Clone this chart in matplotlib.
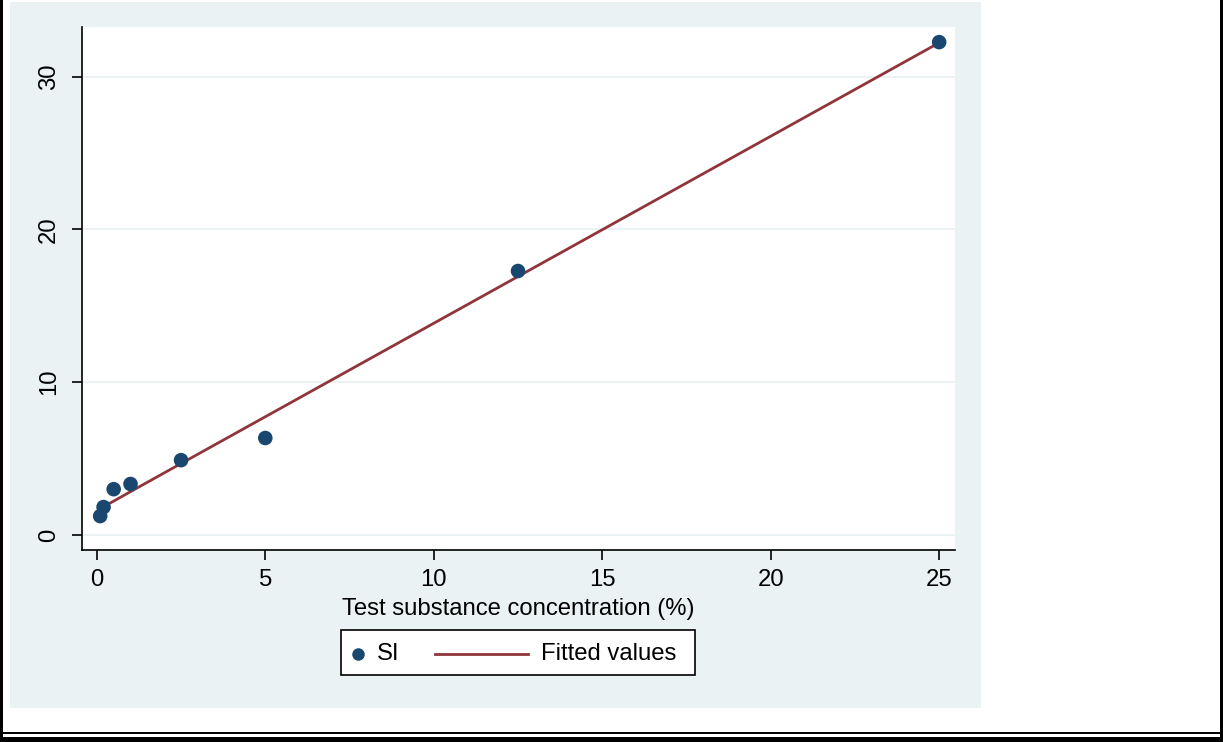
import numpy as np
import matplotlib
matplotlib.use("Agg")
import matplotlib.pyplot as plt
from matplotlib.patches import Rectangle
from matplotlib.lines import Line2D

plt.rcParams['font.family'] = ['Liberation Sans', 'DejaVu Sans']

# data
conc = [0.1, 0.2, 0.5, 1, 2.5, 5, 12.5, 25]
si = [1.24, 1.83, 3.0, 3.34, 4.9, 6.35, 17.28, 32.26]
fitted = [1.74, 1.86, 2.22, 2.84, 4.68, 7.74, 16.92, 32.22]
xticks = [0, 5, 10, 15, 20, 25]
yticks = [0, 10, 20, 30]
labels = ['SI', 'Fitted values']

W, H = 1223, 742
navy = '#1a476f'
maroon = '#90353b'
bg = '#eaf2f3'
fs = 17.2

fig = plt.figure(figsize=(W / 100, H / 100), dpi=100)

def fx(x):
    return x / W

def fy(y):
    return 1 - y / H

def px(x0, y0, x1, y1, z=-5, **kw):
    # rectangle in pixel coords (y from top)
    r = Rectangle((fx(x0), fy(y1)), (x1 - x0) / W, (y1 - y0) / H,
                  transform=fig.transFigure, zorder=z, **kw)
    fig.patches.append(r)

# stata-ish outer region and page borders
px(10, 2, 981, 708, facecolor=bg, edgecolor='none')
px(0, 0, 3, 742, facecolor='black', edgecolor='none')
px(1220, 0, 1223, 742, facecolor='black', edgecolor='none')
px(0, 732, 1223, 734, facecolor='black', edgecolor='none')
px(0, 737, 1223, 742, facecolor='black', edgecolor='none')

ax = fig.add_axes([fx(82), fy(550), (955 - 82) / W, (550 - 27) / H])
ax.set_zorder(2)
ax.set_facecolor('white')
ax.set_xlim(-0.44, 25.47)
ax.set_ylim(-0.98, 33.25)

ax.set_xticks(xticks)
ax.set_yticks(yticks)
ax.yaxis.grid(True, color=bg, linewidth=1.5)
ax.set_axisbelow(True)
ax.tick_params(axis='both', direction='out', length=7, width=1.2, labelsize=fs,
               color='black')
ax.tick_params(axis='x', pad=7)
ax.tick_params(axis='y', pad=9)
for lab in ax.get_yticklabels():
    lab.set_rotation(90)
    lab.set_va('center')

for s in ['top', 'right']:
    ax.spines[s].set_visible(False)
for s in ['left', 'bottom']:
    ax.spines[s].set_linewidth(1.2)

ax.plot(conc, fitted, color=maroon, linewidth=2, zorder=2)
ax.scatter(conc, si, s=110, color=navy, edgecolors='none', zorder=3)

ax.set_xlabel('Test substance concentration (%)', fontsize=fs, labelpad=5)

# legend drawn stata style: marker, label, line, label
px(341, 630, 695, 675, z=3, facecolor='white', edgecolor='black', linewidth=1.2)
ly = fy(654)
fig.add_artist(Line2D([fx(358)], [ly], marker='o', markersize=8, color=navy,
                      linestyle='none', transform=fig.transFigure, zorder=4))
fig.text(fx(377), ly, labels[0], fontsize=fs, va='center', ha='left', zorder=4)
fig.add_artist(Line2D([fx(435), fx(528)], [ly, ly], color=maroon, linewidth=2,
                      transform=fig.transFigure, zorder=4))
fig.text(fx(541), ly, labels[1], fontsize=fs, va='center', ha='left', zorder=4)

fig.savefig('out.png', dpi=100)
